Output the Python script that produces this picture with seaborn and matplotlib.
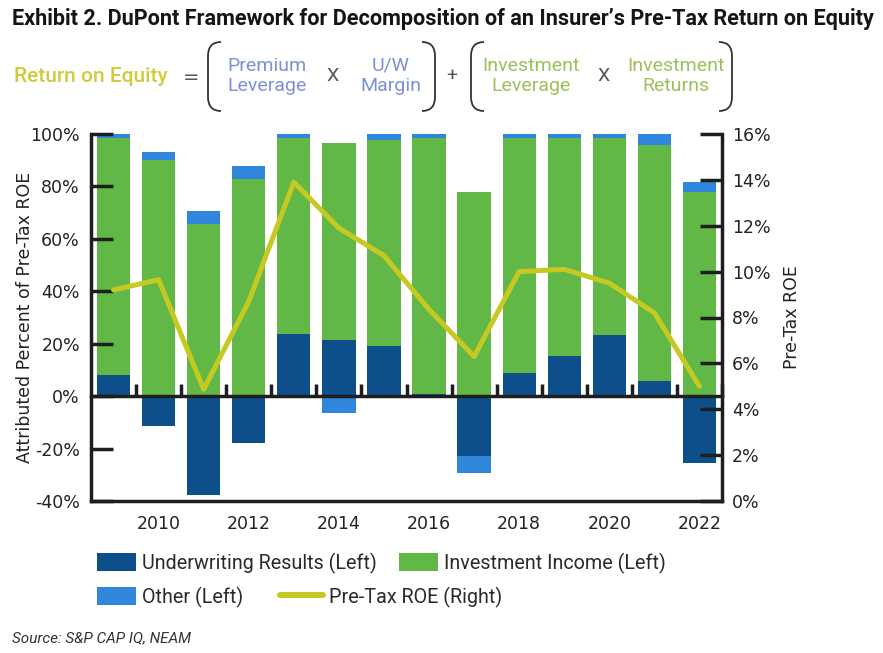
import numpy as np
import pandas as pd
import matplotlib
matplotlib.use('Agg')
import matplotlib.pyplot as plt
import seaborn as sns
from matplotlib import font_manager
from matplotlib.patches import Patch, PathPatch
from matplotlib.lines import Line2D
from matplotlib.path import Path
from matplotlib.ticker import FuncFormatter

# Datos (porcentajes)
years = [2009, 2010, 2011, 2012, 2013, 2014, 2015, 2016, 2017, 2018, 2019, 2020, 2021, 2022]
underwriting = [8.2, -11.4, -37.9, -17.7, 23.6, 21.3, 19.3, 1.0, -22.8, 9.0, 15.5, 23.2, 5.6, -25.6]
investment = [90.1, 90.0, 65.7, 83.0, 74.7, 75.1, 78.6, 97.3, 78.0, 89.3, 82.8, 75.1, 90.1, 78.0]
other = [1.9, 3.3, 5.1, 4.7, 1.9, -6.6, 2.3, 1.9, -6.6, 1.9, 1.9, 1.9, 4.5, 3.8]
pretax_roe = [9.2, 9.65, 4.87, 8.7, 13.9, 11.9, 10.7, 8.35, 6.3, 10.0, 10.1, 9.5, 8.2, 5.0]

left_ticks = [-40, -20, 0, 20, 40, 60, 80, 100]
right_ticks = [0, 2, 4, 6, 8, 10, 12, 14, 16]

title = "Exhibit 2. DuPont Framework for Decomposition of an Insurer\u2019s Pre-Tax Return on Equity"
legend_labels = ["Underwriting Results (Left)", "Investment Income (Left)", "Other (Left)", "Pre-Tax ROE (Right)"]

c_uw = '#0D4F8B'
c_inv = '#62B847'
c_other = '#2F86DA'
c_line = '#C5C922'
c_dark = '#1E1E1E'

W, H = 883, 653


def fx(x):
    return x / W


def fy(y):
    return 1 - y / H


sns.set_style('white')
names = {f.name for f in font_manager.fontManager.ttflist}
narrow = 'Liberation Sans Narrow' if 'Liberation Sans Narrow' in names else 'Roboto'
plt.rcParams['font.family'] = ['DejaVu Sans']
plt.rcParams['axes.axisbelow'] = False

# capas apiladas (positivas hacia arriba, negativas hacia abajo)
df = pd.DataFrame({'year': years, 'uw': underwriting, 'inv': investment, 'other': other})
pos_uw = df['uw'].clip(lower=0)
neg_uw = df['uw'].clip(upper=0)
df['top_other'] = pos_uw + df['inv'] + df['other'].clip(lower=0)
df['top_inv'] = pos_uw + df['inv']
df['pos_uw'] = pos_uw
df['bot_other'] = neg_uw + df['other'].clip(upper=0)
df['neg_uw'] = neg_uw

fig = plt.figure(figsize=(W / 100, H / 100), dpi=100)
ax = fig.add_axes([fx(91), fy(501), (722 - 91) / W, (501 - 134) / H])

for col, colr in [('top_other', c_other), ('top_inv', c_inv), ('pos_uw', c_uw),
                  ('bot_other', c_other), ('neg_uw', c_uw)]:
    sns.barplot(data=df, x='year', y=col, color=colr, saturation=1, width=0.74,
                linewidth=0, errorbar=None, ax=ax)

ax.set_axisbelow(False)
ax.set_xlim(-0.5, len(years) - 0.5)
ax.set_ylim(-40, 100)
ax.set_xlabel('')
ax.set_ylabel('Attributed Percent of Pre-Tax ROE', fontsize=12.5, color='#222222')
ax.yaxis.set_label_coords(-0.09, 0.5)
ax.set_yticks(left_ticks)
ax.yaxis.set_major_formatter(FuncFormatter(lambda v, p: f'{v:.0f}%'))
ax.set_xticks(range(1, len(years), 2), labels=[str(y) for y in years[1::2]])
ax.set_xticks(np.arange(0.5, len(years) - 1, 1), minor=True)
ax.tick_params(axis='x', which='major', length=0, pad=10, labelsize=12.5, labelcolor='#222222')
ax.tick_params(axis='x', which='minor', direction='in', length=8, width=2.5, color=c_dark)
ax.tick_params(axis='y', direction='in', length=16, width=2.5, color=c_dark, pad=8,
               labelsize=12.5, labelcolor='#222222')
for s in ['top', 'right']:
    ax.spines[s].set_visible(False)
for s in ['left', 'bottom']:
    ax.spines[s].set_linewidth(2.5)
    ax.spines[s].set_color(c_dark)

# linea del cero con sus marcas
zero = ax.secondary_xaxis(0, transform=ax.transData)
zero.set_xticks(np.arange(0.5, len(years), 1))
zero.tick_params(direction='in', length=9, width=2.5, color=c_dark, labelbottom=False)
zero.spines['bottom'].set_linewidth(2.5)
zero.spines['bottom'].set_color(c_dark)
zero.set_zorder(3)

ax2 = ax.twinx()
sns.lineplot(x=np.arange(len(years)), y=pretax_roe, ax=ax2, color=c_line, linewidth=3.6)
ax2.set_ylim(0, 16)
ax2.set_yticks(right_ticks)
ax2.yaxis.set_major_formatter(FuncFormatter(lambda v, p: f'{v:.0f}%'))
ax2.tick_params(axis='y', direction='in', length=16, width=2.5, color=c_dark, pad=7,
                labelsize=12.5, labelcolor='#222222')
ax2.set_ylabel('Pre-Tax ROE', fontsize=12.5, color='#222222', labelpad=9)
for s in ['top', 'left', 'bottom']:
    ax2.spines[s].set_visible(False)
ax2.spines['right'].set_linewidth(2.5)
ax2.spines['right'].set_color(c_dark)

# titulo ajustado al ancho
t = fig.text(fx(12), fy(19), title, fontsize=15, weight='bold', family=narrow,
             color='#151515', ha='left', va='center')
fig.canvas.draw()
w = t.get_window_extent().width
t.set_fontsize(15 * 865 / w)

# formula DuPont
fs = 14
fig.text(fx(14), fy(77), 'Return on Equity', fontsize=15, color='#D1CB3B', family=narrow,
         weight='medium', ha='left', va='center')
fig.text(fx(191), fy(77), '=', fontsize=fs, color='#555555', ha='center', va='center')
for txt, x, colr in [('Premium\nLeverage', 267, '#7E8FD8'), ('X', 333, '#555555'),
                     ('U/W\nMargin', 391, '#7E8FD8'), ('+', 452, '#555555'),
                     ('Investment\nLeverage', 531, '#9CC05A'), ('X', 604, '#555555'),
                     ('Investment\nReturns', 676, '#9CC05A')]:
    fig.text(fx(x), fy(76), txt, fontsize=fs, color=colr, family=narrow,
             ha='center', va='center', linespacing=1.15)


def bracket(x0, x1, ytop, ybot, r=14):
    verts = [(x1, ytop), (x0, ytop), (x0, ytop + r), (x0, ybot - r), (x0, ybot), (x1, ybot)]
    verts = [(fx(a), fy(b)) for a, b in verts]
    codes = [Path.MOVETO, Path.CURVE3, Path.CURVE3, Path.LINETO, Path.CURVE3, Path.CURVE3]
    fig.add_artist(PathPatch(Path(verts, codes), transform=fig.transFigure,
                             fill=False, lw=1.3, color='#333333'))


bracket(208, 221, 42, 111)
bracket(435, 422, 42, 111)
bracket(471, 484, 42, 111)
bracket(732, 719, 42, 111)

# leyenda manual, una entrada por posicion
lfs = 14.2
lpx = lfs * 100 / 72
handles = [Patch(color=c_uw, lw=0), Patch(color=c_inv, lw=0), Patch(color=c_other, lw=0),
           Line2D([], [], color=c_line, lw=4.3)]
spots = [(97, 563, 39), (399, 563, 39), (97, 597, 39), (280, 597, 43)]
for h, lab, (x, y, hw) in zip(handles, legend_labels, spots):
    fig.legend(handles=[h], labels=[lab], loc='center left', bbox_to_anchor=(fx(x), fy(y)),
               frameon=False, borderpad=0, borderaxespad=0, handlelength=hw / lpx,
               handleheight=20 / lpx, handletextpad=6 / lpx,
               prop={'family': narrow, 'size': lfs}, labelcolor='#2A2A2A')

fig.text(fx(12), fy(638), 'Source: S&P CAP IQ, NEAM', fontsize=11, style='italic',
         family=narrow, color='#333333', ha='left', va='center')

fig.savefig('out.png', dpi=100)
